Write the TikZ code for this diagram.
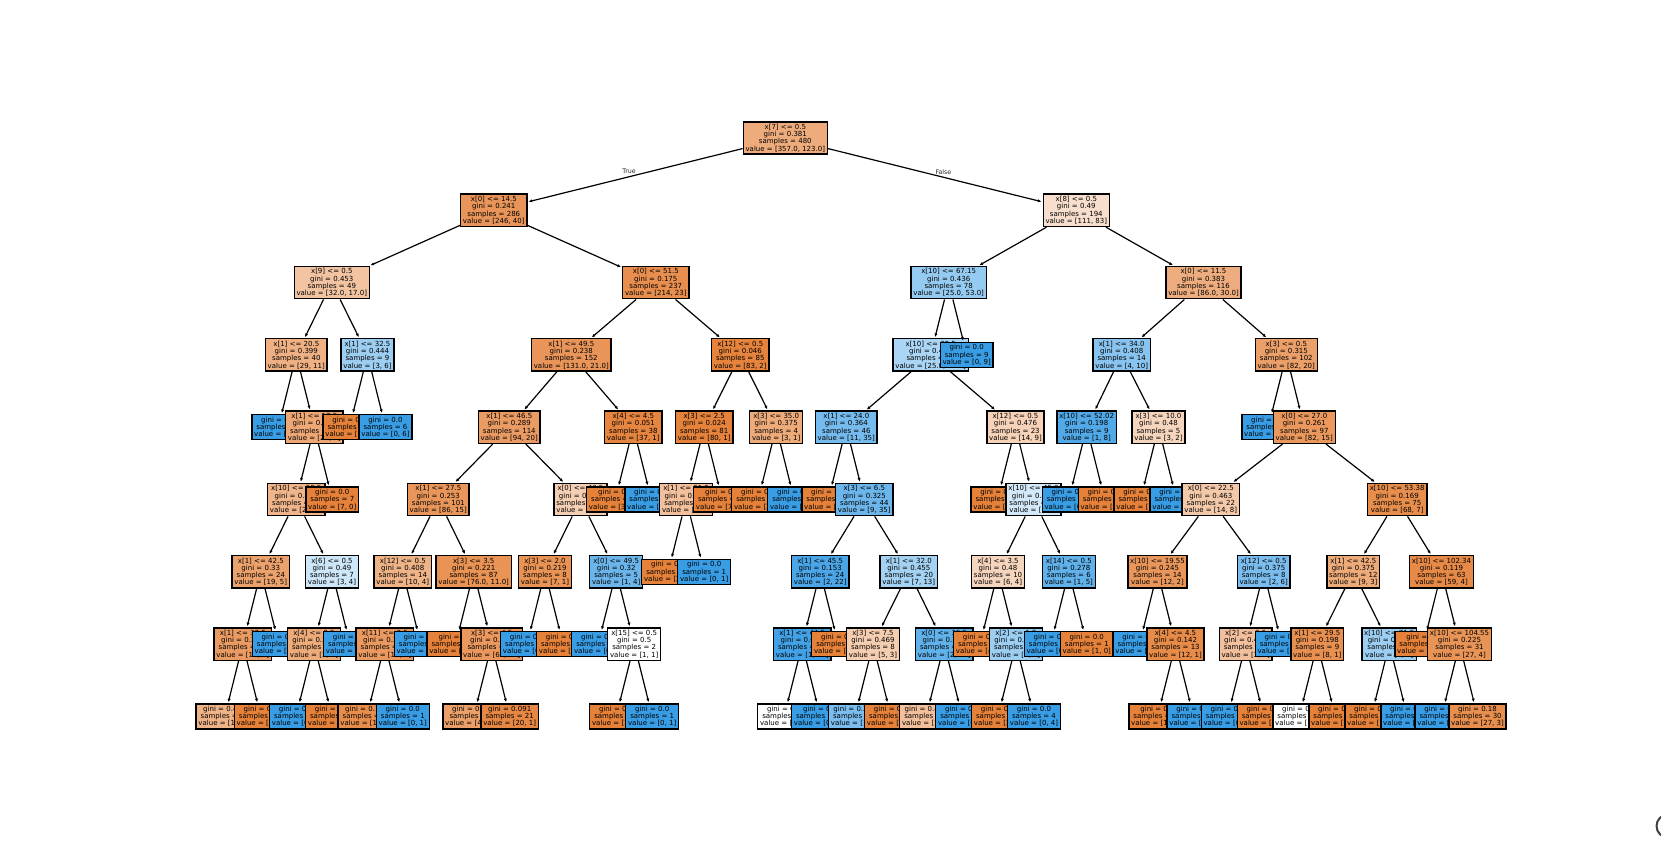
\documentclass[tikz,border=0pt]{standalone}
\usepackage{fontspec}
\setmainfont{DejaVu Sans}
\usetikzlibrary{arrows.meta,calc}
\definecolor{O}{RGB}{229,129,57}
\definecolor{B}{RGB}{57,157,229}
\pgfdeclarelayer{bg}
\pgfdeclarelayer{l8}\pgfdeclarelayer{l7}\pgfdeclarelayer{l6}
\pgfdeclarelayer{l5}\pgfdeclarelayer{l4}\pgfdeclarelayer{l3}
\pgfdeclarelayer{l2}\pgfdeclarelayer{l1}\pgfdeclarelayer{l0}
\pgfsetlayers{bg,l8,l7,l6,l5,l4,l3,l2,l1,l0,main}
\tikzset{
  tn/.style={draw=black, line width=1.4pt, align=center, inner xsep=2.3pt,
    inner ysep=2.1pt, font=\fontsize{7}{7.3}\selectfont, text=black},
  arr/.style={draw=black, line width=1.2pt, -{Latex[length=3.6pt,width=3.2pt]}, shorten >=1pt},
  lab/.style={inner sep=0pt, font=\fontsize{6.3}{7}\selectfont, text=black!85}
}
\newcommand{\TXi}[4]{#1\\gini = #2\\samples = #3\\value = [#4]}
\newcommand{\TXl}[3]{gini = #1\\samples = #2\\value = [#3]}
\newcommand{\nd}[6]{%
  \begin{pgfonlayer}{l#1}
    \node[tn,fill=#5] (#2) at (#4,{138+72.3*#1}) {#6};
    \draw[arr] (#3) -- (#2);
  \end{pgfonlayer}}
\begin{document}
\begin{tikzpicture}[x=1pt,y=-1pt]
\useasboundingbox (0,0) rectangle (1661,846);
\begin{pgfonlayer}{bg}
\fill[white] (0,0) rectangle (1661,846);
\end{pgfonlayer}
\begin{pgfonlayer}{l0}
\node[tn,fill=O!66!white] (n0) at (785.3,138) {\TXi{x[7] <= 0.5}{0.381}{480}{357.0, 123.0}};
\end{pgfonlayer}
\nd{1}{n1}{n0}{493.8}{O!84!white}{\TXi{x[0] <= 14.5}{0.241}{286}{246, 40}}
\nd{2}{n11}{n1}{331.8}{O!47!white}{\TXi{x[9] <= 0.5}{0.453}{49}{32.0, 17.0}}
\nd{3}{n111}{n11}{296.3}{O!62!white}{\TXi{x[1] <= 20.5}{0.399}{40}{29, 11}}
\nd{4}{n1111}{n111}{278.3}{B}{\TXl{0.0}{2}{0, 2}}
\nd{4}{n1112}{n111}{314.3}{O!69!white}{\TXi{x[1] <= 17.5}{0.361}{38}{29, 9}}
\nd{5}{n11121}{n1112}{296.3}{O!59!white}{\TXi{x[10] <= 58.5}{0.412}{31}{22, 9}}
\nd{6}{n111211}{n11121}{260.8}{O!74!white}{\TXi{x[1] <= 42.5}{0.33}{24}{19, 5}}
\nd{7}{a1}{n111211}{242.8}{O!79!white}{\TXi{x[1] <= 37.5}{0.287}{23}{19, 4}}
\nd{8}{a11}{a1}{224.8}{O!60!white}{\TXl{0.408}{14}{10, 4}}
\nd{8}{a12}{a1}{260.8}{O}{\TXl{0.0}{9}{9, 0}}
\nd{7}{a2}{n111211}{278.8}{B}{\TXl{0.0}{1}{0, 1}}
\nd{6}{n111212}{n11121}{332}{B!25!white}{\TXi{x[6] <= 0.5}{0.49}{7}{3, 4}}
\nd{7}{b1}{n111212}{314}{O!67!white}{\TXi{x[4] <= 2.5}{0.375}{4}{3, 1}}
\nd{8}{b11}{b1}{296}{B}{\TXl{0.0}{1}{0, 1}}
\nd{8}{b12}{b1}{332}{O}{\TXl{0.0}{3}{3, 0}}
\nd{7}{b2}{n111212}{350}{B}{\TXl{0.0}{3}{0, 3}}
\nd{5}{n11122}{n1112}{332.3}{O}{\TXl{0.0}{7}{7, 0}}
\nd{3}{n112}{n11}{367.5}{B!50!white}{\TXi{x[1] <= 32.5}{0.444}{9}{3, 6}}
\nd{4}{n1121}{n112}{349.5}{O}{\TXl{0.0}{3}{3, 0}}
\nd{4}{n1122}{n112}{385.5}{B}{\TXl{0.0}{6}{0, 6}}
\nd{2}{n12}{n1}{655.8}{O!89!white}{\TXi{x[0] <= 51.5}{0.175}{237}{214, 23}}
\nd{3}{n121}{n12}{571.3}{O!84!white}{\TXi{x[1] <= 49.5}{0.238}{152}{131.0, 21.0}}
\nd{4}{n1211}{n121}{509.3}{O!79!white}{\TXi{x[1] <= 46.5}{0.289}{114}{94, 20}}
\nd{5}{n12111}{n1211}{438.3}{O!83!white}{\TXi{x[1] <= 27.5}{0.253}{101}{86, 15}}
\nd{6}{n121111}{n12111}{402.8}{O!60!white}{\TXi{x[12] <= 0.5}{0.408}{14}{10, 4}}
\nd{7}{c1}{n121111}{384.8}{O!80!white}{\TXi{x[11] <= 0.5}{0.278}{12}{10, 2}}
\nd{8}{c11}{c1}{366.8}{O!90!white}{\TXl{0.165}{11}{10, 1}}
\nd{8}{c12}{c1}{402.8}{B}{\TXl{0.0}{1}{0, 1}}
\nd{7}{c2}{n121111}{420.8}{B}{\TXl{0.0}{2}{0, 2}}
\nd{6}{n121112}{n12111}{473.7}{O!86!white}{\TXi{x[3] <= 3.5}{0.221}{87}{76.0, 11.0}}
\nd{7}{d1}{n121112}{455.7}{O}{\TXl{0.0}{14}{14, 0}}
\nd{7}{d2}{n121112}{491.7}{O!82!white}{\TXi{x[3] <= 4.5}{0.256}{73}{62, 11}}
\nd{8}{d21}{d2}{473.7}{O!76!white}{\TXl{0.311}{52}{42, 10}}
\nd{8}{d22}{d2}{509.7}{O!95!white}{\TXl{0.091}{21}{20, 1}}
\nd{5}{n12112}{n1211}{580.5}{O!38!white}{\TXi{x[0] <= 40.5}{0.473}{13}{8, 5}}
\nd{6}{n121121}{n12112}{545}{O!86!white}{\TXi{x[3] <= 2.0}{0.219}{8}{7, 1}}
\nd{7}{e1}{n121121}{527}{B}{\TXl{0.0}{1}{0, 1}}
\nd{7}{e2}{n121121}{563}{O}{\TXl{0.0}{7}{7, 0}}
\nd{6}{n121122}{n12112}{616.2}{B!75!white}{\TXi{x[0] <= 49.5}{0.32}{5}{1, 4}}
\nd{7}{f1}{n121122}{598.2}{B}{\TXl{0.0}{3}{0, 3}}
\nd{7}{f2}{n121122}{634.2}{white}{\TXi{x[15] <= 0.5}{0.5}{2}{1, 1}}
\nd{8}{f21}{f2}{616.2}{O}{\TXl{0.0}{1}{1, 0}}
\nd{8}{f22}{f2}{652.2}{B}{\TXl{0.0}{1}{0, 1}}
\nd{4}{n1212}{n121}{633.3}{O!97!white}{\TXi{x[4] <= 4.5}{0.051}{38}{37, 1}}
\nd{5}{n12121}{n1212}{615.3}{O}{\TXl{0.0}{37}{37, 0}}
\nd{5}{n12122}{n1212}{651.3}{B}{\TXl{0.0}{1}{0, 1}}
\nd{3}{n122}{n12}{740.3}{O!98!white}{\TXi{x[12] <= 0.5}{0.046}{85}{83, 2}}
\nd{4}{n1221}{n122}{704.2}{O!99!white}{\TXi{x[3] <= 2.5}{0.024}{81}{80, 1}}
\nd{5}{n12211}{n1221}{686.2}{O!50!white}{\TXi{x[1] <= 51.5}{0.444}{3}{2, 1}}
\nd{6}{n122111}{n12211}{668.2}{O}{\TXl{0.0}{2}{2, 0}}
\nd{6}{n122112}{n12211}{704.2}{B}{\TXl{0.0}{1}{0, 1}}
\nd{5}{n12212}{n1221}{722.2}{O}{\TXl{0.0}{78}{78, 0}}
\nd{4}{n1222}{n122}{776.2}{O!67!white}{\TXi{x[3] <= 35.0}{0.375}{4}{3, 1}}
\nd{5}{n12221}{n1222}{758.2}{O}{\TXl{0.0}{3}{3, 0}}
\nd{5}{n12222}{n1222}{794.2}{B}{\TXl{0.0}{1}{0, 1}}
\nd{1}{n2}{n0}{1076.3}{O!25!white}{\TXi{x[8] <= 0.5}{0.49}{194}{111, 83}}
\nd{2}{n21}{n2}{948.7}{B!53!white}{\TXi{x[10] <= 67.15}{0.436}{78}{25.0, 53.0}}
\nd{3}{n211}{n21}{930.7}{B!43!white}{\TXi{x[10] <= 38.5}{0.462}{69}{25.0, 44.0}}
\nd{4}{n2111}{n211}{846.3}{B!69!white}{\TXi{x[1] <= 24.0}{0.364}{46}{11, 35}}
\nd{5}{n21111}{n2111}{828.3}{O}{\TXl{0.0}{2}{2, 0}}
\nd{5}{n21112}{n2111}{864.3}{B!74!white}{\TXi{x[3] <= 6.5}{0.325}{44}{9, 35}}
\nd{6}{n211121}{n21112}{820.2}{B!91!white}{\TXi{x[1] <= 45.5}{0.153}{24}{2, 22}}
\nd{7}{g1}{n211121}{802.2}{B!95!white}{\TXi{x[1] <= 44.5}{0.083}{23}{1, 22}}
\nd{8}{g11}{g1}{784.2}{white}{\TXl{0.5}{2}{1, 1}}
\nd{8}{g12}{g1}{820.2}{B}{\TXl{0.0}{21}{0, 21}}
\nd{7}{g2}{n211121}{838.2}{O}{\TXl{0.0}{1}{1, 0}}
\nd{6}{n211122}{n21112}{908.8}{B!46!white}{\TXi{x[1] <= 32.0}{0.455}{20}{7, 13}}
\nd{7}{h1}{n211122}{873}{O!40!white}{\TXi{x[3] <= 7.5}{0.469}{8}{5, 3}}
\nd{8}{h11}{h1}{855}{B!67!white}{\TXl{0.375}{4}{1, 3}}
\nd{8}{h12}{h1}{891}{O}{\TXl{0.0}{4}{4, 0}}
\nd{7}{h2}{n211122}{944.2}{B!80!white}{\TXi{x[0] <= 36.5}{0.278}{12}{2, 10}}
\nd{8}{h21}{h2}{926.2}{O!50!white}{\TXl{0.444}{3}{2, 1}}
\nd{8}{h22}{h2}{962.2}{B}{\TXl{0.0}{9}{0, 9}}
\nd{4}{n2112}{n211}{1015.5}{O!36!white}{\TXi{x[12] <= 0.5}{0.476}{23}{14, 9}}
\nd{5}{n21121}{n2112}{997.5}{O}{\TXl{0.0}{7}{7, 0}}
\nd{5}{n21122}{n2112}{1033.5}{B!22!white}{\TXi{x[10] <= 45.0}{0.492}{16}{7, 9}}
\nd{6}{n211221}{n21122}{998}{O!33!white}{\TXi{x[4] <= 3.5}{0.48}{10}{6, 4}}
\nd{7}{i1}{n211221}{980}{O}{\TXl{0.0}{4}{4, 0}}
\nd{7}{i2}{n211221}{1016}{B!50!white}{\TXi{x[2] <= 1.5}{0.444}{6}{2, 4}}
\nd{8}{i21}{i2}{998}{O}{\TXl{0.0}{2}{2, 0}}
\nd{8}{i22}{i2}{1034}{B}{\TXl{0.0}{4}{0, 4}}
\nd{6}{n211222}{n21122}{1068.8}{B!80!white}{\TXi{x[14] <= 0.5}{0.278}{6}{1, 5}}
\nd{7}{j1}{n211222}{1050.8}{B}{\TXl{0.0}{5}{0, 5}}
\nd{7}{j2}{n211222}{1086.8}{O}{\TXl{0.0}{1}{1, 0}}
\nd{3}{n212}{n21}{966.7}{B}{\TXl{0.0}{9}{0, 9}}
\nd{2}{n22}{n2}{1203.5}{O!65!white}{\TXi{x[0] <= 11.5}{0.383}{116}{86.0, 30.0}}
\nd{3}{n221}{n22}{1121.7}{B!60!white}{\TXi{x[1] <= 34.0}{0.408}{14}{4, 10}}
\nd{4}{n2211}{n221}{1086.7}{B!88!white}{\TXi{x[10] <= 52.02}{0.198}{9}{1, 8}}
\nd{5}{n22111}{n2211}{1068.7}{B}{\TXl{0.0}{8}{0, 8}}
\nd{5}{n22112}{n2211}{1104.7}{O}{\TXl{0.0}{1}{1, 0}}
\nd{4}{n2212}{n221}{1158.5}{O!33!white}{\TXi{x[3] <= 10.0}{0.48}{5}{3, 2}}
\nd{5}{n22121}{n2212}{1140.5}{O}{\TXl{0.0}{3}{3, 0}}
\nd{5}{n22122}{n2212}{1176.5}{B}{\TXl{0.0}{2}{0, 2}}
\nd{3}{n222}{n22}{1286.3}{O!76!white}{\TXi{x[3] <= 0.5}{0.315}{102}{82, 20}}
\nd{4}{n2221}{n222}{1268.3}{B}{\TXl{0.0}{5}{0, 5}}
\nd{4}{n2222}{n222}{1304.3}{O!82!white}{\TXi{x[0] <= 27.0}{0.261}{97}{82, 15}}
\nd{5}{n22221}{n2222}{1210.8}{O!43!white}{\TXi{x[0] <= 22.5}{0.463}{22}{14, 8}}
\nd{6}{n222211}{n22221}{1157.5}{O!83!white}{\TXi{x[10] <= 19.55}{0.245}{14}{12, 2}}
\nd{7}{k1}{n222211}{1139.5}{B}{\TXl{0.0}{1}{0, 1}}
\nd{7}{k2}{n222211}{1175.5}{O!92!white}{\TXi{x[4] <= 4.5}{0.142}{13}{12, 1}}
\nd{8}{k21}{k2}{1157.5}{O}{\TXl{0.0}{12}{12, 0}}
\nd{8}{k22}{k2}{1193.5}{B}{\TXl{0.0}{1}{0, 1}}
\nd{6}{n222212}{n22221}{1263.7}{B!67!white}{\TXi{x[12] <= 0.5}{0.375}{8}{2, 6}}
\nd{7}{l1}{n222212}{1245.7}{O!50!white}{\TXi{x[2] <= 2.5}{0.444}{3}{2, 1}}
\nd{8}{l11}{l1}{1227.7}{B}{\TXl{0.0}{1}{0, 1}}
\nd{8}{l12}{l1}{1263.7}{O}{\TXl{0.0}{2}{2, 0}}
\nd{7}{l2}{n222212}{1281.7}{B}{\TXl{0.0}{5}{0, 5}}
\nd{5}{n22222}{n2222}{1397.2}{O!90!white}{\TXi{x[10] <= 53.38}{0.169}{75}{68, 7}}
\nd{6}{n222221}{n22222}{1353.3}{O!67!white}{\TXi{x[1] <= 42.5}{0.375}{12}{9, 3}}
\nd{7}{m1}{n222221}{1317.3}{O!88!white}{\TXi{x[1] <= 29.5}{0.198}{9}{8, 1}}
\nd{8}{m11}{m1}{1299.3}{white}{\TXl{0.5}{2}{1, 1}}
\nd{8}{m12}{m1}{1335.3}{O}{\TXl{0.0}{7}{7, 0}}
\nd{7}{m2}{n222221}{1389.3}{B!50!white}{\TXi{x[10] <= 71.5}{0.444}{3}{1, 2}}
\nd{8}{m21}{m2}{1371.3}{O}{\TXl{0.0}{1}{1, 0}}
\nd{8}{m22}{m2}{1407.3}{B}{\TXl{0.0}{2}{0, 2}}
\nd{6}{n222222}{n22222}{1441.5}{O!93!white}{\TXi{x[10] <= 102.34}{0.119}{63}{59, 4}}
\nd{7}{p1}{n222222}{1423.5}{O}{\TXl{0.0}{32}{32, 0}}
\nd{7}{p2}{n222222}{1459.5}{O!85!white}{\TXi{x[10] <= 104.55}{0.225}{31}{27, 4}}
\nd{8}{p21}{p2}{1441.5}{B}{\TXl{0.0}{1}{0, 1}}
\nd{8}{p22}{p2}{1477.5}{O!89!white}{\TXl{0.18}{30}{27, 3}}
\coordinate (mT) at ($(n0.center)!0.5!(n1.center)$);
\coordinate (mF) at ($(n0.center)!0.5!(n2.center)$);
\node[lab, anchor=east] (tT) at ($(mT)+(-3.5,-2.5)$) {True};
\node[lab, anchor=west] (tF) at ($(mF)+(4.5,-2.5)$) {False};
\draw[line width=2pt, black!75] (1668,826) circle[radius=11.5];
\end{tikzpicture}
\end{document}
